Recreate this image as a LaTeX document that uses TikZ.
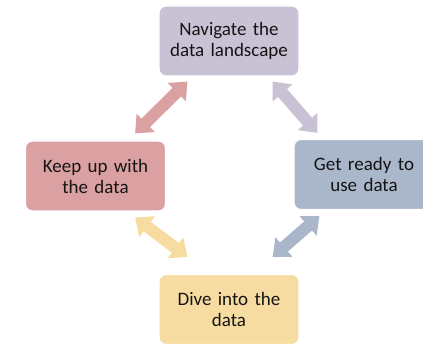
\documentclass[tikz,border=0pt]{standalone}
\usepackage{fontspec}
\setmainfont{Carlito}
\usetikzlibrary{arrows.meta,calc}
\definecolor{cnav}{RGB}{201,193,212}
\definecolor{ckeep}{RGB}{219,160,161}
\definecolor{cget}{RGB}{170,183,203}
\definecolor{cdive}{RGB}{247,220,161}
\definecolor{ctext}{RGB}{20,20,20}
\tikzset{
  stagebox/.style={draw=white, line width=1.2pt, rounded corners=7pt,
    minimum width=140pt, minimum height=70pt, text width=130pt, align=center,
    text=ctext, font=\fontsize{19}{21}\selectfont, inner sep=0pt},
  dblarrow/.style={line width=12pt,
    arrows={Triangle[width=25pt,length=15pt]-Triangle[width=25pt,length=15pt]}},
}
\begin{document}
\begin{tikzpicture}[x=1pt,y=-1pt]
\useasboundingbox (0,0) rectangle (423,347);
\clip (0,0) rectangle (423,347);
\node[stagebox, fill=cnav]  (nav)  at (229,41)    {Navigate the\\data landscape};
\node[stagebox, fill=ckeep] (keep) at (95.5,176)  {Keep up with\\the data};
\node[stagebox, fill=cget]  (get)  at (364,174.5) {Get ready to\\use data};
\node[stagebox, fill=cdive] (dive) at (229,309.5) {Dive into the\\data};
\coordinate (a1) at ([shift={(29,5)}]nav.south west);
\coordinate (a2) at ([shift={(-31,-7)}]keep.north east);
\coordinate (b1) at ([shift={(-27,5)}]nav.south east);
\coordinate (b2) at ([shift={(24,-6)}]get.north west);
\coordinate (c1) at ([shift={(-31,6)}]keep.south east);
\coordinate (c2) at ([shift={(29,-17)}]dive.north west);
\coordinate (d1) at ([shift={(26,6)}]get.south west);
\coordinate (d2) at ([shift={(-27,-17)}]dive.north east);
\draw[dblarrow, ckeep] (a1) -- (a2);
\draw[dblarrow, cnav]  (b1) -- (b2);
\draw[dblarrow, cdive] (c1) -- (c2);
\draw[dblarrow, cget]  (d1) -- (d2);
\end{tikzpicture}
\end{document}
